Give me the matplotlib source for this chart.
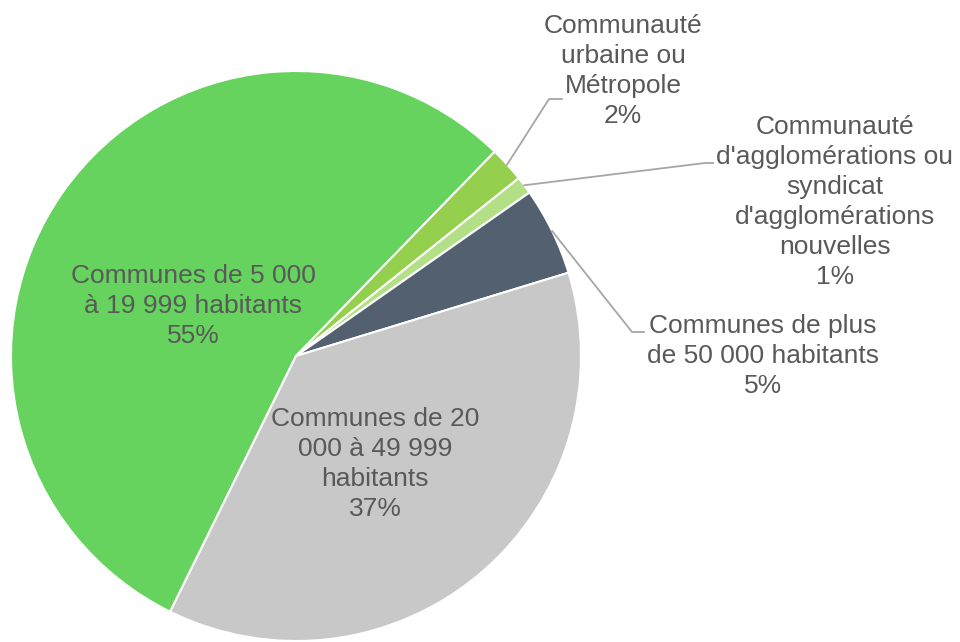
import numpy as np
import matplotlib.pyplot as plt

plt.rcParams['font.family'] = ['Liberation Sans', 'DejaVu Sans']

# data (clockwise order as drawn)
categories = [
    "Communes de 5 000\nà 19 999 habitants",
    "Communauté\nurbaine ou\nMétropole",
    "Communauté\nd'agglomérations ou\nsyndicat\nd'agglomérations\nnouvelles",
    "Communes de plus\nde 50 000 habitants",
    "Communes de 20\n000 à 49 999\nhabitants",
]
shares = [55, 2, 1, 5, 37]
colors = ["#66D35E", "#94CF4E", "#B3DF86", "#536070", "#C8C8C8"]

# layout in pixels
W, H = 960, 642
cx, cy, R = 296, 356, 285
label_px = [(193, 306), (623, 71), (835, 202), (763, 356), (375, 464)]
elbow_px = [None, (549, 99), (705, 163), (632, 332), None]
end_px = [None, (562, 99), (713, 163), (644, 332), None]


def to_data(p):
    return ((p[0] - cx) / R, (cy - p[1]) / R)


fig = plt.figure(figsize=(W / 100, H / 100), dpi=100)
ax = fig.add_axes([0, 0, 1, 1])

start = 90 - 206.2
wedges, _ = ax.pie(shares, colors=colors, startangle=start, counterclock=False,
                   radius=1.0, wedgeprops=dict(edgecolor="white", linewidth=1.5))

txt_col = "#595959"
for i, (w, lab, val) in enumerate(zip(wedges, categories, shares)):
    x, y = to_data(label_px[i])
    ax.text(x, y, f"{lab}\n{val}%", ha="center", va="center", fontsize=19,
            color=txt_col, linespacing=1.32)
    if elbow_px[i] is not None:
        mid = np.deg2rad((w.theta1 + w.theta2) / 2)
        x0, y0 = np.cos(mid), np.sin(mid)
        ex, ey = to_data(elbow_px[i])
        fx, fy = to_data(end_px[i])
        ax.plot([x0, ex, fx], [y0, ey, fy], color="#A6A6A6", lw=1.3)

ax.set_xlim(-cx / R, (W - cx) / R)
ax.set_ylim(-(H - cy) / R, cy / R)
ax.set_aspect("auto")
ax.axis("off")

fig.savefig("out.png", dpi=100)
